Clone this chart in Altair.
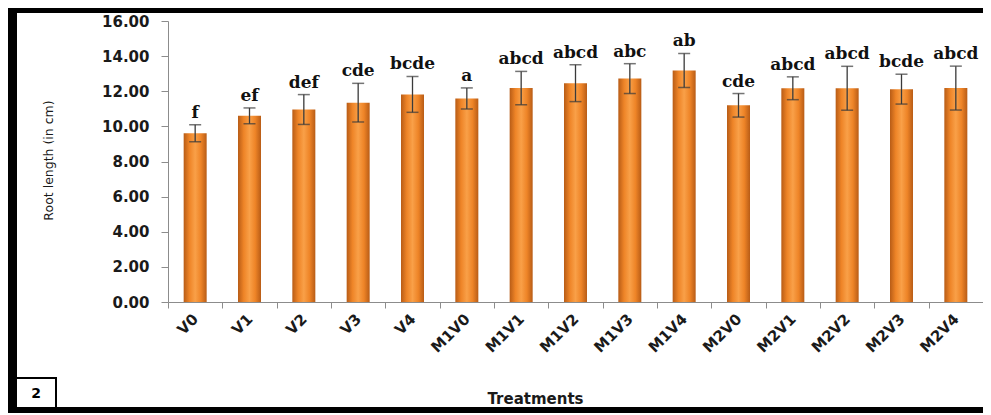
import altair as alt
import pandas as pd

treatments = ["V0", "V1", "V2", "V3", "V4", "M1V0", "M1V1", "M1V2", "M1V3", "M1V4",
              "M2V0", "M2V1", "M2V2", "M2V3", "M2V4"]
root_length = [9.61, 10.60, 10.96, 11.35, 11.82, 11.59, 12.18, 12.46, 12.72, 13.18,
               11.20, 12.17, 12.17, 12.12, 12.18]
std_error = [0.48, 0.45, 0.85, 1.10, 1.02, 0.60, 0.95, 1.05, 0.85, 0.97,
             0.67, 0.65, 1.25, 0.85, 1.25]
letters = ["f", "ef", "def", "cde", "bcde", "a", "abcd", "abcd", "abc", "ab",
           "cde", "abcd", "abcd", "bcde", "abcd"]
y_ticks = [0, 2, 4, 6, 8, 10, 12, 14, 16]

df = pd.DataFrame({
    "Treatment": treatments,
    "Root": root_length,
    "Lo": [m - e for m, e in zip(root_length, std_error)],
    "Hi": [m + e for m, e in zip(root_length, std_error)],
    "Letter": letters,
})

W, H = 815, 281
SANS = "DejaVu Sans"

x_axis = alt.Axis(
    title="Treatments", titleFont=SANS, titleFontSize=15, titleFontWeight="bold",
    titleColor="#1a1a1a", titleX=367, titleY=96, titleAnchor="middle",
    titleAlign="center", titleBaseline="middle",
    labelAngle=-45, labelAlign="right", labelBaseline="middle",
    labelFont=SANS, labelFontSize=15, labelFontWeight="bold", labelColor="#1a1a1a",
    labelPadding=8, labelOverlap=False, tickBand="extent", tickSize=6,
    tickColor="#8c8c8c", domainColor="#8c8c8c", domainWidth=1, grid=False,
)
x_scale = alt.Scale(paddingInner=0, paddingOuter=0)

y_axis = alt.Axis(
    values=y_ticks, tickCount=9, format=".2f", title="Root length (in cm)",
    titleFont=SANS, titleFontSize=12.5, titleFontWeight="normal", titleColor="#1a1a1a",
    titleX=-120, titleY=139, titleAngle=-90, titleAlign="center", titleBaseline="middle",
    labelFont=SANS, labelFontSize=15, labelFontWeight="bold", labelColor="#1a1a1a",
    labelPadding=12, labelOverlap=False, labelFlush=False, tickSize=7,
    tickColor="#8c8c8c", domainColor="#8c8c8c", domainWidth=1, grid=False,
)
y_scale = alt.Scale(domain=[0, 16], nice=False)


def xe():
    return alt.X("Treatment:N", sort=treatments, scale=x_scale, axis=x_axis)


def ye(field):
    return alt.Y(field, type="quantitative", scale=y_scale, axis=y_axis)


gradient = alt.Gradient(
    gradient="linear", x1=0, x2=1, y1=0, y2=0,
    stops=[
        alt.GradientStop(color="#B85C16", offset=0),
        alt.GradientStop(color="#EE8427", offset=0.25),
        alt.GradientStop(color="#F9A048", offset=0.5),
        alt.GradientStop(color="#EE8427", offset=0.75),
        alt.GradientStop(color="#B85C16", offset=1),
    ],
)

base = alt.Chart(df)

bars = base.mark_bar(size=23, color=gradient).encode(x=xe(), y=ye("Root"))

err = base.mark_rule(color="#3a3a3a", strokeWidth=1.3).encode(
    x=xe(), y=ye("Lo"), y2="Hi:Q",
)
cap_lo = base.mark_tick(color="#3a3a3a", size=12, thickness=1.5).encode(
    x=xe(), y=ye("Lo"),
)
cap_hi = base.mark_tick(color="#3a3a3a", size=12, thickness=1.5).encode(
    x=xe(), y=ye("Hi"),
)
labels = base.mark_text(
    font="DejaVu Serif", fontSize=17, fontWeight="bold", color="#111111",
    baseline="alphabetic", dy=-7,
).encode(x=xe(), y=ye("Hi"), text="Letter:N")

one = alt.Chart(pd.DataFrame({"k": [0]}))
top_border = one.mark_rect(color="black").encode(
    x=alt.value(-160), x2=alt.value(W), y=alt.value(-13), y2=alt.value(-8))
left_border = one.mark_rect(color="black").encode(
    x=alt.value(-160), x2=alt.value(-151), y=alt.value(-13), y2=alt.value(392))
bottom_border = one.mark_rect(color="black").encode(
    x=alt.value(-160), x2=alt.value(W), y=alt.value(386), y2=alt.value(392))
box = one.mark_rect(fill="white", stroke="black", strokeWidth=2).encode(
    x=alt.value(-152), x2=alt.value(-112), y=alt.value(357), y2=alt.value(387))
box_text = one.mark_text(font=SANS, fontSize=14, fontWeight="bold", color="black").encode(
    x=alt.value(-132), y=alt.value(373), text=alt.value("2"))

chart = alt.layer(
    bars, err, cap_lo, cap_hi, labels,
    top_border, left_border, bottom_border, box, box_text,
).properties(
    width=W, height=H,
    autosize=alt.AutoSizeParams(type="none"),
    padding={"left": 160, "top": 13, "right": 0, "bottom": 111},
    background="white",
).configure_view(strokeWidth=0)

chart.save("out.html", embed_options={"renderer": "svg", "actions": False})
